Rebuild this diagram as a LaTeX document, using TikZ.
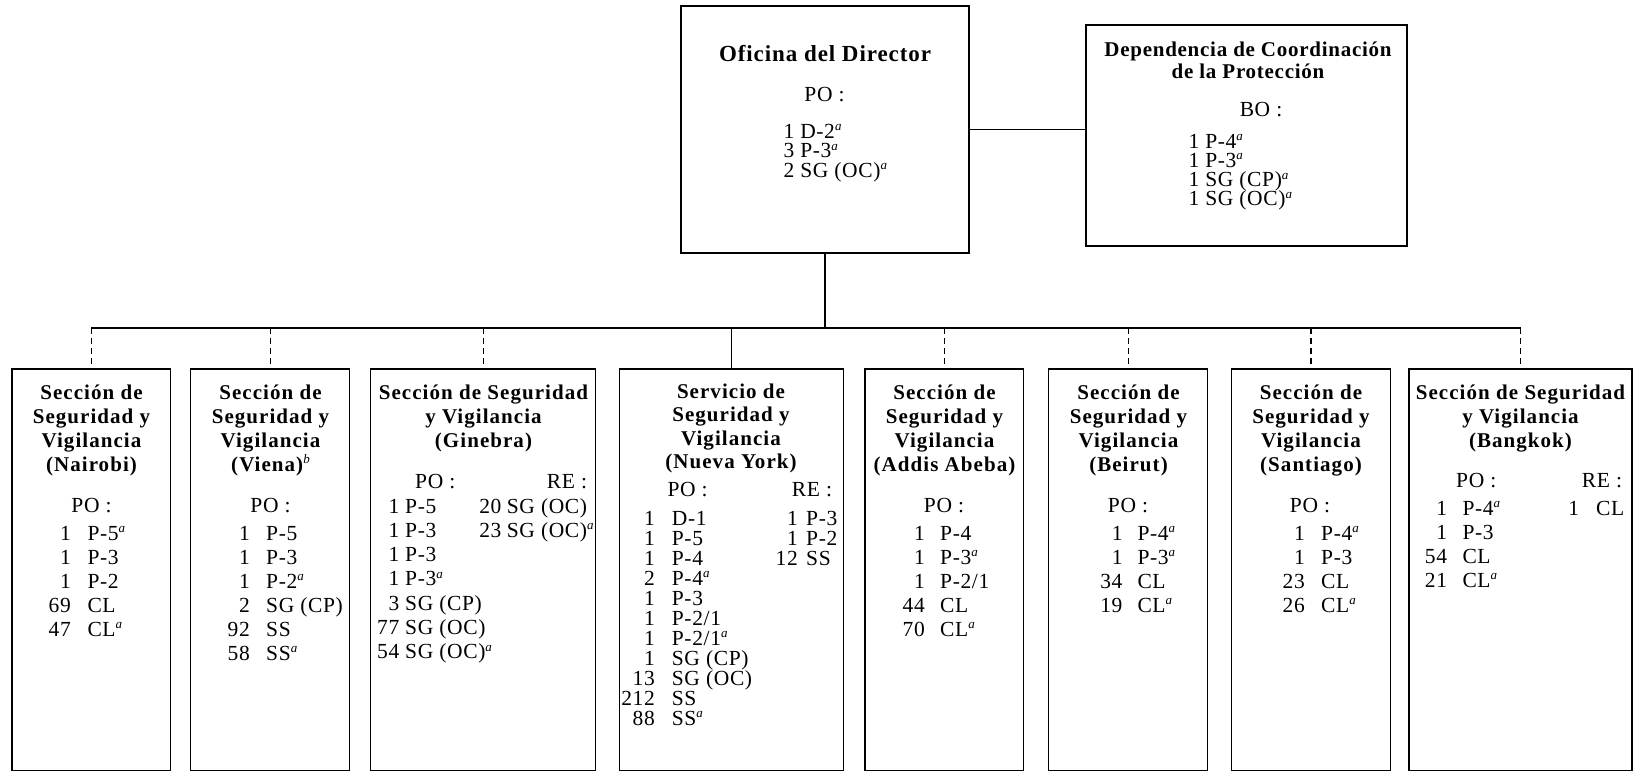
\documentclass[tikz,border=0pt]{standalone}
\usepackage{fontspec}
\setmainfont{Liberation Serif}
\newfontfamily\rgfam[LetterSpace=3]{Liberation Serif}
\newfontfamily\hdfam[LetterSpace=5]{Liberation Serif}
\newfontfamily\offam[LetterSpace=4]{Liberation Serif}
\newfontfamily\depfam[LetterSpace=3.5]{Liberation Serif}
\newcommand\ssa{\raisebox{7.5pt}{\fontsize{13}{13}\selectfont\rgfam\itshape a}}
\newcommand\ssb{\raisebox{7.5pt}{\fontsize{13}{13}\selectfont\rgfam\mdseries\itshape b}}
\tikzset{
 box/.style={draw, line width=1.4pt, inner sep=0pt, outer sep=0pt, anchor=north west},
 hd/.style={font=\hdfam\bfseries\fontsize{21}{24}\selectfont, inner sep=0pt, anchor=base},
 oftitle/.style={font=\offam\bfseries\fontsize{23}{24}\selectfont, inner sep=0pt, anchor=base},
 deptitle/.style={font=\depfam\bfseries\fontsize{21}{24}\selectfont, inner sep=0pt, anchor=base},
 rg/.style={font=\rgfam\fontsize{21.5}{24}\selectfont, inner sep=0pt},
 lbl/.style={rg, anchor=base},
 lblw/.style={rg, anchor=base west},
 numtxt/.style={rg, anchor=base east},
 codetxt/.style={rg, anchor=base west},
 conn/.style={line width=1.4pt},
 bus/.style={line width=2pt},
 dsh/.style={line width=1.4pt, dash pattern=on 6pt off 4pt},
}
\newcommand\hdlines[5]{%
 \foreach \t [count=\i from 0] in {#5} {\node[hd] (#1h\i) at (#2,{#3+\i*#4}) {\t};}}
\newcommand\tabrows[6]{%
 \foreach \n/\c [count=\i from 0] in {#6} {%
  \node[numtxt] (#1n\i) at (#2,{#4+\i*#5}) {\n};
  \node[codetxt] (#1c\i) at (#3,{#4+\i*#5}) {\c};}}
\begin{document}
\begin{tikzpicture}[x=1pt,y=-1pt]
\useasboundingbox (0,0) rectangle (1633,772);
% top boxes
\node[box, minimum width=288pt, minimum height=247pt] (of) at (681,6) {};
\node[box, minimum width=321pt, minimum height=221pt] (dep) at (1086,25) {};
\node[oftitle] (oft) at (825,61) {Oficina del Director};
\node[lbl] (ofpo) at (824.5,101) {PO :};
\node[lblw] (of1) at (783.3,138) {1 D-2\ssa};
\node[lblw] (of2) at (783.3,157.5) {3 P-3\ssa};
\node[lblw] (of3) at (783.3,177) {2 SG (OC)\ssa};
\node[deptitle] (dept1) at (1248,56) {Dependencia de Coordinación};
\node[deptitle] (dept2) at (1248,78) {de la Protección};
\node[lbl] (depbo) at (1261,116.5) {BO :};
\node[lblw] (dep1) at (1188.3,148) {1 P-4\ssa};
\node[lblw] (dep2) at (1188.3,167.3) {1 P-3\ssa};
\node[lblw] (dep3) at (1188.3,186.6) {1 SG (CP)\ssa};
\node[lblw] (dep4) at (1188.3,205.9) {1 SG (OC)\ssa};
\draw[conn] (of.east) -- (of.east -| dep.west);
% bottom boxes
\node[box, minimum width=158.7pt, minimum height=401.7pt] (nai) at (12,369) {};
\node[box, minimum width=159pt, minimum height=401.7pt] (vie) at (190.7,369) {};
\node[box, minimum width=225pt, minimum height=401.7pt] (gin) at (370.7,369) {};
\node[box, minimum width=224pt, minimum height=401.7pt] (ny) at (619.3,369) {};
\node[box, minimum width=158.7pt, minimum height=401.7pt] (add) at (865,369) {};
\node[box, minimum width=159pt, minimum height=401.7pt] (bei) at (1048.7,369) {};
\node[box, minimum width=158.6pt, minimum height=401.7pt] (san) at (1231.7,369) {};
\node[box, minimum width=223pt, minimum height=401.7pt] (ban) at (1409,369) {};
% bus
\coordinate (bnai) at (nai.north |- 0,328);
\coordinate (bvie) at (vie.north |- 0,328);
\coordinate (bgin) at (gin.north |- 0,328);
\coordinate (bny) at (ny.north |- 0,328);
\coordinate (bof) at (of.south |- 0,328);
\coordinate (badd) at (add.north |- 0,328);
\coordinate (bbei) at (bei.north |- 0,328);
\coordinate (bsan) at (san.north |- 0,328);
\coordinate (bban) at (ban.north |- 0,328);
\draw[bus] (bnai) -- (bban);
\draw[conn] (of.south) -- (bof);
\draw[conn] (bny) -- (ny.north);
\foreach \b in {nai,vie,gin,add,bei,san,ban} {\draw[dsh] (b\b) -- (\b.north);}
% headings
\hdlines{nai}{91.5}{399}{24}{Sección de, Seguridad y, Vigilancia, {(Nairobi)}}
\hdlines{vie}{270.5}{399}{24}{Sección de, Seguridad y, Vigilancia, {(Viena)\ssb}}
\hdlines{gin}{483.5}{399}{24}{Sección de Seguridad, y Vigilancia, {(Ginebra)}}
\hdlines{ny}{731}{398}{23.5}{Servicio de, Seguridad y, Vigilancia, {(Nueva York)}}
\hdlines{add}{944.5}{399}{24}{Sección de, Seguridad y, Vigilancia, {(Addis Abeba)}}
\hdlines{bei}{1128.5}{399}{24}{Sección de, Seguridad y, Vigilancia, {(Beirut)}}
\hdlines{san}{1311}{399}{24}{Sección de, Seguridad y, Vigilancia, {(Santiago)}}
\hdlines{ban}{1520.5}{399}{24}{Sección de Seguridad, y Vigilancia, {(Bangkok)}}
% PO / RE labels
\node[lbl] (naipo) at (91.5,512) {PO :};
\node[lbl] (viepo) at (270.5,512) {PO :};
\node[lblw] (ginpo) at (415,488) {PO :};
\node[lblw] (ginre) at (546.7,488) {RE :};
\node[lblw] (nypo) at (667.3,496) {PO :};
\node[lblw] (nyre) at (791.7,496) {RE :};
\node[lbl] (addpo) at (944,512) {PO :};
\node[lbl] (beipo) at (1128,512) {PO :};
\node[lbl] (sanpo) at (1310,512) {PO :};
\node[lblw] (banpo) at (1456,487) {PO :};
\node[lblw] (banre) at (1581.7,487) {RE :};
% rows
\tabrows{nai}{71}{87.3}{540}{24}{1/{P-5\ssa}, 1/{P-3}, 1/{P-2}, 69/{CL}, 47/{CL\ssa}}
\tabrows{vie}{250}{266}{540}{24}{1/{P-5}, 1/{P-3}, 1/{P-2\ssa}, 2/{SG (CP)}, 92/{SS}, 58/{SS\ssa}}
\tabrows{gin}{399.5}{405}{513}{24.3}{1/{P-5}, 1/{P-3}, 1/{P-3}, 1/{P-3\ssa}, 3/{SG (CP)}, 77/{SG (OC)}, 54/{SG (OC)\ssa}}
\tabrows{ginr}{501.7}{506.7}{513}{24.3}{20/{SG (OC)}, 23/{SG (OC)\ssa}}
\tabrows{ny}{655}{671.7}{525}{20}{1/{D-1}, 1/{P-5}, 1/{P-4}, 2/{P-4\ssa}, 1/{P-3}, 1/{P-2/1}, 1/{P-2/1\ssa}, 1/{SG (CP)}, 13/{SG (OC)}, 212/{SS}, 88/{SS\ssa}}
\tabrows{nyr}{798}{806}{525}{20}{1/{P-3}, 1/{P-2}, 12/{SS}}
\tabrows{add}{925}{940}{540}{24}{1/{P-4}, 1/{P-3\ssa}, 1/{P-2/1}, 44/{CL}, 70/{CL\ssa}}
\tabrows{bei}{1122.7}{1137.3}{540}{24}{1/{P-4\ssa}, 1/{P-3\ssa}, 34/{CL}, 19/{CL\ssa}}
\tabrows{san}{1305}{1321}{540}{24}{1/{P-4\ssa}, 1/{P-3}, 23/{CL}, 26/{CL\ssa}}
\tabrows{ban}{1447.3}{1462.3}{515}{24}{1/{P-4\ssa}, 1/{P-3}, 54/{CL}, 21/{CL\ssa}}
\tabrows{banr}{1579.3}{1596}{515}{24}{1/{CL}}
\end{tikzpicture}
\end{document}
